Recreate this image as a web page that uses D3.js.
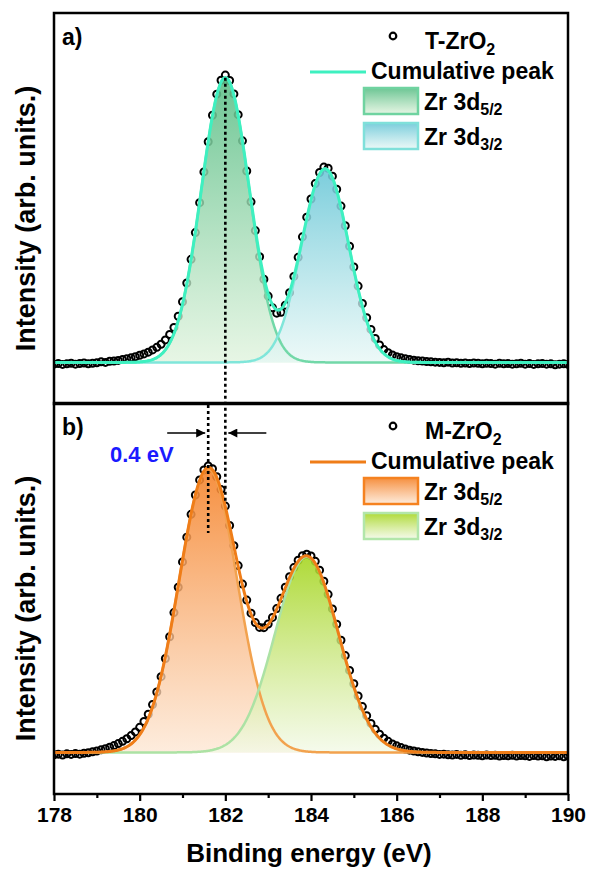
<!DOCTYPE html>
<html>
<head>
<meta charset="UTF-8">
<title>Zr 3d XPS</title>
<script src="https://d3js.org/d3.v7.min.js"></script>
<style>
  body { margin: 0; background: #fff; }
  text { font-family: "Liberation Sans", Arial, sans-serif; font-weight: bold; }
</style>
</head>
<body>
<div id="chart"></div>
<script>
// measured points start at 178.0 eV, one every 0.1 eV
var eStart = 178.0, eStep = 0.1;

// T-ZrO2 measured intensity (arb. units)
var tData = [
  -0.6, -0.4, -0.7, -0.5, -0.3, -0.6, -0.4, -0.2, -0.5, -0.3,
  -0.1, 0.2, 0.0, 0.4, 0.5, 0.7, 1.0, 1.3, 1.6, 2.0,
  2.5, 3.0, 3.6, 4.4, 5.3, 6.4, 7.9, 9.8, 12.3, 16.2,
  21.3, 27.9, 36.2, 45.6, 56.1, 66.9, 77.5, 86.8, 94.2, 99.1,
  100.9, 99.0, 94.3, 87.0, 77.8, 67.2, 56.4, 46.3, 37.1, 29.2,
  23.3, 19.2, 17.3, 17.6, 20.1, 24.5, 30.2, 36.9, 44.1, 51.0,
  57.4, 62.8, 66.7, 68.6, 68.2, 65.4, 60.8, 54.9, 48.0, 40.8,
  33.5, 26.8, 20.7, 15.7, 11.6, 8.4, 6.1, 4.5, 3.4, 2.6,
  2.0, 1.6, 1.3, 1.0, 0.8, 0.6, 0.5, 0.3, 0.2, 0.1,
  0.0, -0.1, 0.1, -0.2, -0.1, -0.3, -0.2, -0.4, -0.2, -0.3,
  -0.5, -0.3, -0.4, -0.6, -0.3, -0.5, -0.4, -0.6, -0.5, -0.3,
  -0.6, -0.4, -0.7, -0.5, -0.4, -0.6, -0.5, -0.8, -0.6, -0.5, -0.7
];

// M-ZrO2 measured intensity (arb. units)
var mData = [
  -0.8, -0.6, -0.9, -0.5, -0.7, -0.4, -0.6, -0.3, -0.1, 0.2,
  0.5, 0.9, 1.3, 1.8, 2.4, 3.1, 3.9, 4.8, 5.9, 7.2,
  8.8, 10.9, 13.4, 16.8, 21.2, 26.6, 33.0, 40.6, 49.1, 58.0,
  66.9, 75.6, 83.6, 90.4, 95.7, 99.2, 100.6, 99.6, 96.8, 92.3,
  86.5, 79.7, 72.6, 65.6, 59.1, 53.5, 48.9, 45.6, 43.9, 43.8,
  45.1, 47.4, 50.5, 54.1, 58.0, 61.7, 64.9, 67.5, 69.1, 69.6,
  69.0, 67.1, 64.0, 60.1, 55.5, 50.4, 45.0, 39.4, 34.0, 28.8,
  24.1, 19.8, 16.1, 12.9, 10.2, 8.1, 6.4, 5.0, 3.9, 3.0,
  2.3, 1.7, 1.2, 0.8, 0.5, 0.2, 0.0, -0.2, -0.4, -0.5,
  -0.7, -0.6, -0.8, -0.9, -0.7, -1.0, -0.8, -1.1, -0.9, -1.0,
  -1.2, -0.9, -1.1, -1.0, -1.3, -1.1, -1.2, -1.0, -1.3, -1.1,
  -1.2, -1.4, -1.1, -1.3, -1.2, -1.5, -1.3, -1.4, -1.2, -1.5, -1.3
];

// fitted Gaussian components: [3d5/2, 3d3/2]
var tCenters = [182.0, 184.33];
var tHeights = [100, 68];
var tFwhm = [1.32, 1.3];

var mCenters = [181.6, 183.9];
var mHeights = [99.5, 68.7];
var mFwhm = [1.6, 1.75];

var sampleNames = ["T-ZrO", "M-ZrO"];
var panelLabels = ["a)", "b)"];
var compSubs = ["5/2", "3/2"];
var xTicks = [178, 180, 182, 184, 186, 188, 190];
var xMinor = [179, 181, 183, 185, 187, 189];
var shiftLabel = "0.4 eV";

var W = 590, H = 870;
var left = 54, right = 568;
var panelTops = [13, 403];
var panelH = 391;

var svg = d3.select("#chart").append("svg")
  .attr("width", W).attr("height", H);
var defs = svg.append("defs");

var x = d3.scaleLinear().domain([178, 190]).range([left, right]);

var fitGrid = d3.range(178, 190.0001, 0.02);

function gauss(e, c, h, w) {
  var s = w / 2.3548;
  return h * Math.exp(-(e - c) * (e - c) / (2 * s * s));
}

var panels = [
  {
    data: tData, centers: tCenters, heights: tHeights, fwhm: tFwhm,
    cum: "#3ef0c0",
    fill: ["#5cbf88", "#6cc8d8"],
    light: ["#dff3dc", "#e6f7f5"],
    edge: ["#72d8a8", "#80e6da"],
    box: ["#6fd3a0", "#7fe0da"]
  },
  {
    data: mData, centers: mCenters, heights: mHeights, fwhm: mFwhm,
    cum: "#ef7d18",
    fill: ["#f5832a", "#a6d622"],
    light: ["#fde6d2", "#f2f9e6"],
    edge: ["#f2a24e", "#ace2a4"],
    box: ["#f58220", "#b2e6aa"]
  }
];

panels.forEach(function(p, i) {
  var top = panelTops[i];
  var y = d3.scaleLinear().domain([-14.6, 122.7]).range([top + panelH, top]);
  p.y = y;
  var g = svg.append("g");

  defs.append("clipPath").attr("id", "clip" + i)
    .append("rect").attr("x", left).attr("y", top)
    .attr("width", right - left).attr("height", panelH);
  var plot = g.append("g").attr("clip-path", "url(#clip" + i + ")");

  // measured points
  plot.selectAll("circle.pt")
    .data(p.data)
    .enter().append("circle")
    .attr("class", "pt")
    .attr("cx", function(d, k) { return x(eStart + k * eStep); })
    .attr("cy", function(d) { return y(d); })
    .attr("r", 3.5)
    .attr("fill", "none")
    .attr("stroke", "#000")
    .attr("stroke-width", 2);

  // components
  var comps = p.centers.map(function(c, k) {
    return fitGrid.map(function(e) {
      return { e: e, v: gauss(e, c, p.heights[k], p.fwhm[k]) };
    });
  });

  comps.forEach(function(cd, k) {
    var gid = "grad" + i + k;
    var gr = defs.append("linearGradient").attr("id", gid)
      .attr("gradientUnits", "userSpaceOnUse")
      .attr("x1", 0).attr("x2", 0)
      .attr("y1", y(p.heights[k])).attr("y2", y(0));
    gr.append("stop").attr("offset", 0).attr("stop-color", p.fill[k]).attr("stop-opacity", 0.9);
    gr.append("stop").attr("offset", 1).attr("stop-color", p.light[k]).attr("stop-opacity", 0.75);

    plot.append("path").datum(cd)
      .attr("fill", "url(#" + gid + ")")
      .attr("d", d3.area().x(function(d) { return x(d.e); })
        .y0(y(0)).y1(function(d) { return y(d.v); }));
  });
  comps.forEach(function(cd, k) {
    plot.append("path").datum(cd)
      .attr("fill", "none")
      .attr("stroke", p.edge[k])
      .attr("stroke-width", 2.5)
      .attr("d", d3.line().x(function(d) { return x(d.e); }).y(function(d) { return y(d.v); }));
  });

  // cumulative peak
  var cum = fitGrid.map(function(e, n) {
    return { e: e, v: d3.sum(comps, function(cd) { return cd[n].v; }) };
  });
  plot.append("path").datum(cum)
    .attr("fill", "none")
    .attr("stroke", p.cum)
    .attr("stroke-width", 3)
    .attr("d", d3.line().x(function(d) { return x(d.e); }).y(function(d) { return y(d.v); }));

  // frame
  g.append("rect").attr("x", left).attr("y", top)
    .attr("width", right - left).attr("height", panelH)
    .attr("fill", "none").attr("stroke", "#000").attr("stroke-width", 2.5);

  // panel label
  g.append("text").attr("x", 62).attr("y", top + 32)
    .attr("font-size", 23).text(panelLabels[i]);

  // y title
  g.append("text")
    .attr("transform", "translate(35," + (top + panelH / 2 + 10) + ") rotate(-90)")
    .attr("text-anchor", "middle")
    .attr("font-size", 27)
    .text("Intensity (arb. units.)");

  // legend
  var lg = g.append("g");
  lg.append("circle").attr("cx", 393).attr("cy", top + 23).attr("r", 3.3)
    .attr("fill", "none").attr("stroke", "#000").attr("stroke-width", 2.2);
  var t1 = lg.append("text").attr("x", 425).attr("y", top + 36).attr("font-size", 23);
  t1.append("tspan").text(sampleNames[i]);
  t1.append("tspan").attr("font-size", 16).attr("dy", 6).text("2");

  lg.append("line").attr("x1", 310).attr("x2", 366)
    .attr("y1", top + 59).attr("y2", top + 59)
    .attr("stroke", p.cum).attr("stroke-width", 3);
  lg.append("text").attr("x", 371).attr("y", top + 66).attr("font-size", 23)
    .text("Cumulative peak");

  [0, 1].forEach(function(k) {
    var by = top + 75 + k * 35;
    var lid = "lgrad" + i + k;
    var lgr = defs.append("linearGradient").attr("id", lid)
      .attr("x1", 0).attr("x2", 0).attr("y1", 0).attr("y2", 1);
    lgr.append("stop").attr("offset", 0).attr("stop-color", p.fill[k]).attr("stop-opacity", 0.9);
    lgr.append("stop").attr("offset", 1).attr("stop-color", p.light[k]).attr("stop-opacity", 0.8);
    lg.append("rect").attr("x", 364).attr("y", by)
      .attr("width", 54).attr("height", 26)
      .attr("fill", "url(#" + lid + ")")
      .attr("stroke", p.box[k]).attr("stroke-width", 2.5);
    var tz = lg.append("text").attr("x", 424).attr("y", by + 22).attr("font-size", 23);
    tz.append("tspan").text("Zr 3d");
    tz.append("tspan").attr("font-size", 16).attr("dy", 5).text(compSubs[k]);
  });
});

// x axis on the lower panel
var axisY = panelTops[1] + panelH;
var ax = svg.append("g").attr("transform", "translate(0," + axisY + ")")
  .call(d3.axisBottom(x).tickValues(xTicks).tickSize(7).tickPadding(6)
    .tickFormat(d3.format("d")));
ax.select(".domain").remove();
ax.selectAll("line").attr("stroke-width", 2.2);
ax.selectAll("text").attr("font-size", 21).attr("fill", "#000")
  .style("font-family", "'Liberation Sans', Arial, sans-serif").style("font-weight", "bold");
var axm = svg.append("g").attr("transform", "translate(0," + axisY + ")")
  .call(d3.axisBottom(x).tickValues(xMinor).tickSize(4).tickFormat(""));
axm.select(".domain").remove();
axm.selectAll("line").attr("stroke-width", 2.2);

svg.append("text").attr("x", 309).attr("y", 862)
  .attr("text-anchor", "middle").attr("font-size", 26)
  .text("Binding energy (eV)");

// peak position markers
var yTop = panels[0].y;
svg.append("line")
  .attr("x1", x(tCenters[0])).attr("x2", x(tCenters[0]))
  .attr("y1", yTop(tHeights[0])).attr("y2", 503)
  .attr("stroke", "#000").attr("stroke-width", 2.6).attr("stroke-dasharray", "3,3");
svg.append("line")
  .attr("x1", x(mCenters[0])).attr("x2", x(mCenters[0]))
  .attr("y1", panelTops[1] + 2).attr("y2", 533)
  .attr("stroke", "#000").attr("stroke-width", 2.6).attr("stroke-dasharray", "3,3");

defs.append("marker").attr("id", "arrow")
  .attr("viewBox", "0 0 10 10").attr("refX", 10).attr("refY", 5)
  .attr("markerWidth", 11).attr("markerHeight", 9)
  .attr("markerUnits", "userSpaceOnUse")
  .attr("orient", "auto")
  .append("path").attr("d", "M0,0 L10,5 L0,10 Z").attr("fill", "#000");

var arrowY = panelTops[1] + 30;
svg.append("line")
  .attr("x1", x(mCenters[0]) - 41).attr("x2", x(mCenters[0]) - 3)
  .attr("y1", arrowY).attr("y2", arrowY)
  .attr("stroke", "#000").attr("stroke-width", 1.6)
  .attr("marker-end", "url(#arrow)");
svg.append("line")
  .attr("x1", x(tCenters[0]) + 41).attr("x2", x(tCenters[0]) + 3)
  .attr("y1", arrowY).attr("y2", arrowY)
  .attr("stroke", "#000").attr("stroke-width", 1.6)
  .attr("marker-end", "url(#arrow)");

svg.append("text").attr("x", 110).attr("y", 462)
  .attr("font-size", 22).attr("fill", "#1a1aff")
  .text(shiftLabel);
</script>
</body>
</html>
